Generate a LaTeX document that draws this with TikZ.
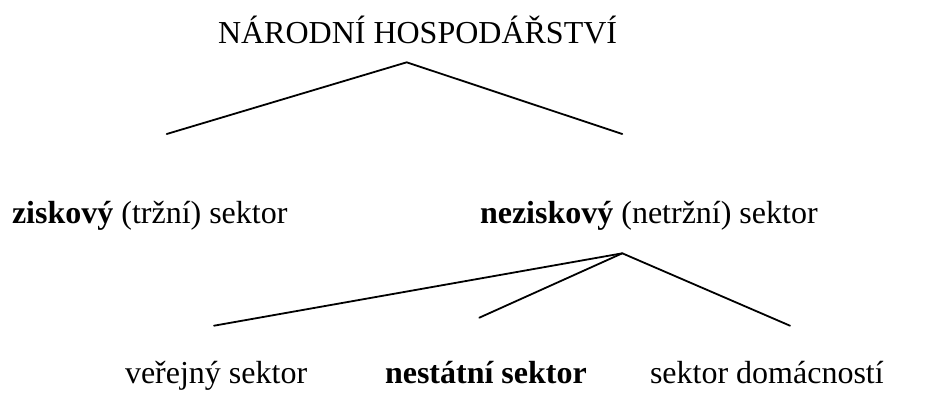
\documentclass[tikz,border=0pt]{standalone}
\usepackage{fontspec}
\setmainfont{Liberation Serif}
\begin{document}
\begin{tikzpicture}[x=1bp,y=-1bp,
  lbl/.style={inner sep=0pt,outer sep=0pt,anchor=base west,font=\fontsize{32bp}{38bp}\selectfont},
  branch/.style={line width=1.8bp,line cap=round,line join=round}]
\useasboundingbox[fill=white] (0,0) rectangle (933,394);
\node[lbl] (title) at (218,43) {NÁRODNÍ HOSPODÁŘSTVÍ};
\node[lbl] (zisk) at (12,223) {\textbf{ziskový} (tržní) sektor};
\node[lbl] (nezisk) at (480,223) {\textbf{neziskový} (netržní) sektor};
\node[lbl] (verej) at (125,383) {veřejný sektor};
\node[lbl] (nestat) at (385,383) {\textbf{nestátní sektor}};
\node[lbl] (domac) at (650,383) {sektor domácností};
\coordinate (a1) at (406.7,62.3);
\coordinate (l1) at (166.7,134);
\coordinate (r1) at (622.3,134);
\coordinate (a2) at (622.3,253.3);
\coordinate (l2) at (214,325.7);
\coordinate (m2) at (479.3,317.7);
\coordinate (r2) at (790,325.7);
\draw[branch] (l1) -- (a1) -- (r1);
\draw[branch] (l2) -- (a2) -- (r2);
\draw[branch] (a2) -- (m2);
\end{tikzpicture}
\end{document}
